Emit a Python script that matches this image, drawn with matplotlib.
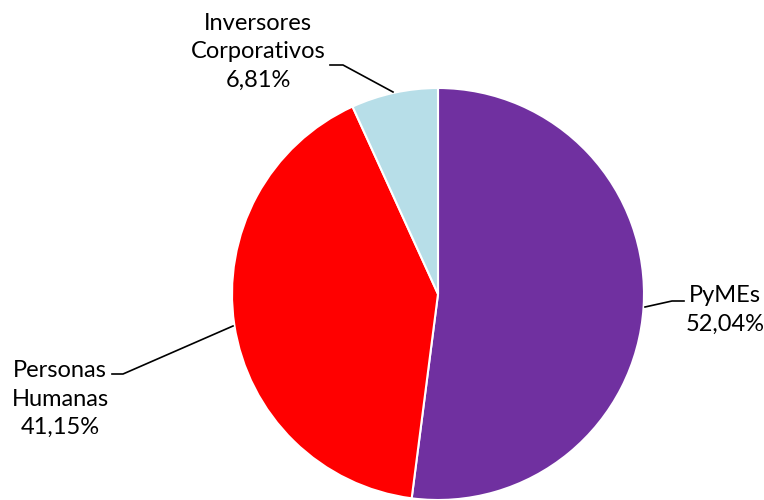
import matplotlib
matplotlib.use("Agg")
import matplotlib.pyplot as plt

categories = ["PyMEs", "Personas\nHumanas", "Inversores\nCorporativos"]
values = [52.04, 41.15, 6.81]
labels = ["52,04%", "41,15%", "6,81%"]
colors = ["#7030A0", "#FF0000", "#B7DEE8"]

W, H = 764, 500
fig = plt.figure(figsize=(W / 100, H / 100), dpi=100)
ax = fig.add_axes([0, 0, 1, 1])

cx, cy, r = 438, H - 294, 206
ax.pie(values, colors=colors, startangle=90, counterclock=False,
       center=(cx, cy), radius=r, frame=True,
       wedgeprops=dict(edgecolor="white", linewidth=1.5))
ax.set_xlim(0, W)
ax.set_ylim(0, H)
ax.set_aspect("equal")
ax.axis("off")

font = dict(family="Lato", fontsize=17, color="#000000", ha="center", va="center", linespacing=1.46)
# label positions (pixel, top-origin)
pos = [(725, 310), (60, 399), (258, 52)]
leaders = [
    [(645, 307), (672, 301), (684, 301)],
    [(233, 326), (123, 374), (112, 374)],
    [(393, 92), (343, 65), (330, 65)],
]
for cat, lab, (x, y), pts in zip(categories, labels, pos, leaders):
    ax.text(x, H - y, f"{cat}\n{lab}", **font)
    ax.plot([p[0] for p in pts], [H - p[1] for p in pts], color="black", lw=1.2)

fig.savefig("out.png", dpi=100)
